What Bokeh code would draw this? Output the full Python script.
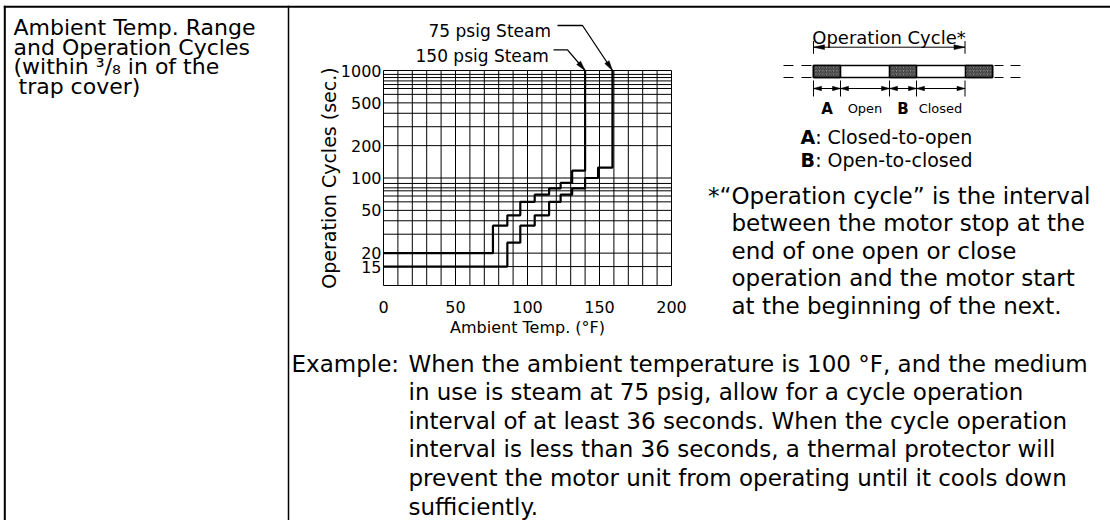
import math
from bokeh.plotting import figure
from bokeh.models import Range1d, LinearScale, LogScale
from bokeh.embed import file_html
from bokeh.resources import INLINE
from bokeh.core.properties import value

FONT = "DejaVu Sans"

# ---------------- data ----------------
temp_150psig = [0, 76, 86, 95, 105, 115, 123, 131, 140]
cycles_150psig = [20, 36, 45, 60, 70, 80, 90, 117, 1000]
temp_75psig = [0, 86, 95, 105, 115, 123, 131, 140, 149, 159]
cycles_75psig = [15, 25, 36, 45, 60, 70, 80, 100, 125, 1000]
series_names = ["75 psig Steam", "150 psig Steam"]

x_tick_values = [0, 50, 100, 150, 200]
y_tick_values = [15, 20, 50, 100, 200, 500, 1000]
x_grid_values = [0, 10, 20, 30, 40, 50, 60, 70, 80, 90, 100, 110, 120, 130, 140, 150, 160, 170, 180, 190, 200]
y_grid_values = [10, 15, 20, 30, 40, 50, 60, 68, 76, 81, 89, 100, 200, 300, 400, 500, 600, 680, 740, 800, 860, 920, 1000]
x_title = "Ambient Temp. (°F)"
y_title = "Operation Cycles (sec.)"

left_lines = ["Ambient Temp. Range", "and Operation Cycles", "(within ³/₈ in of the", "trap cover)"]
diagram_title = "Operation Cycle*"
diagram_parts = ["A", "Open", "B", "Closed"]
legend_keys = ["A", "B"]
legend_texts = [": Closed-to-open", ": Open-to-closed"]
footnote_mark = "*\u201c"
footnote_lines = ["Operation cycle\u201d is the interval", "between the motor stop at the",
                  "end of one open or close", "operation and the motor start",
                  "at the beginning of the next."]
example_head = "Example:"
example_lines = ["When the ambient temperature is 100 °F, and the medium",
                 "in use is steam at 75 psig, allow for a cycle operation",
                 "interval of at least 36 seconds. When the cycle operation",
                 "interval is less than 36 seconds, a thermal protector will",
                 "prevent the motor unit from operating until it cools down",
                 "sufficiently."]

# ---------------- canvas (pixel coordinates, y downwards) ----------------
W, H = 1110, 520
p = figure(width=W, height=H, x_range=Range1d(0, W), y_range=Range1d(H, 0),
           x_axis_location=None, y_axis_location=None,
           output_backend="svg", toolbar_location=None, min_border=0,
           outline_line_color=None, background_fill_color="white",
           border_fill_color="white")
p.grid.visible = False

# chart frame placement (pixels) and the library scales for the data
FR_L, FR_R = 383, 671          # 0 .. 200 °F
FR_B, Y1000 = 285, 70          # 10 s at FR_B, 1000 s at Y1000
DEC = (FR_B - Y1000) / 2.0     # pixels per decade
T_PER_PX = 200.0 / (FR_R - FR_L)


def cyc_at(py):
    return 10 ** (1 + (FR_B - py) / DEC)


def px_of(t):
    return FR_L + t / T_PER_PX


p.extra_x_ranges = {"temp": Range1d(-FR_L * T_PER_PX, (W - FR_L) * T_PER_PX)}
p.extra_x_scales = {"temp": LinearScale()}
p.extra_y_ranges = {"cyc": Range1d(cyc_at(H), cyc_at(0))}
p.extra_y_scales = {"cyc": LogScale()}
D = dict(x_range_name="temp", y_range_name="cyc")


def txt(x, y, s, size, align="left", baseline="alphabetic", bold=False, **kw):
    p.text(x=[x], y=[y], text=[s], text_font=value(FONT), text_font_size=f"{size}px",
           text_align=align, text_baseline=baseline, text_color="black",
           text_font_style="bold" if bold else "normal", **kw)


def head(tip, tail, L=9.0, Wd=2.5):
    dx, dy = tip[0] - tail[0], tip[1] - tail[1]
    n = math.hypot(dx, dy)
    ux, uy = dx / n, dy / n
    bx, by = tip[0] - ux * L, tip[1] - uy * L
    qx, qy = -uy * Wd, ux * Wd
    return [tip[0], bx + qx, bx - qx], [tip[1], by + qy, by - qy]


# ---------------- table rules ----------------
p.line([3.3, W], [6.3, 6.3], line_color="black", line_width=2)
p.line([4.3, 4.3], [5.3, H], line_color="black", line_width=2)
p.line([288, 288], [5.3, H], line_color="black", line_width=1.5)

# ---------------- left cell ----------------
for xx, yy, s in zip([13, 13, 13, 18], [26.7, 46.5, 66, 85.5], left_lines):
    txt(xx, yy, s, 22)

# ---------------- chart ----------------
y_lo, y_hi = y_grid_values[0], y_grid_values[-1]
x_lo, x_hi = x_grid_values[0], x_grid_values[-1]
p.segment(x0=x_grid_values, y0=[y_lo] * len(x_grid_values),
          x1=x_grid_values, y1=[y_hi] * len(x_grid_values),
          line_color="black", line_width=1, **D)
p.segment(x0=[x_lo] * len(y_grid_values), y0=y_grid_values,
          x1=[x_hi] * len(y_grid_values), y1=y_grid_values,
          line_color="black", line_width=1, **D)

p.step(temp_150psig, cycles_150psig, mode="after", line_color="black", line_width=2.2, **D)
p.step(temp_75psig, cycles_75psig, mode="after", line_color="black", line_width=2.2, **D)

# tick labels placed through the scales
p.text(x=[FR_L - 2] * len(y_tick_values), y=y_tick_values,
       text=[str(v) for v in y_tick_values], text_font=value(FONT), text_font_size="16px",
       text_align="right", text_baseline="middle", text_color="black", y_range_name="cyc")
p.text(x=x_tick_values, y=[306] * len(x_tick_values),
       text=[str(v) for v in x_tick_values], text_font=value(FONT), text_font_size="16px",
       text_align="center", text_baseline="alphabetic", text_color="black", x_range_name="temp")
txt((FR_L + FR_R) / 2.0, 327, x_title, 16, align="center")
txt(328, (Y1000 + FR_B) / 2.0, y_title, 19, align="center", baseline="middle", angle=math.pi / 2)

# series callouts
txt(428, 30.7, series_names[0], 17)
txt(415, 55, series_names[1], 17)
callouts = [
    ((557, 25), (582, 25), (px_of(temp_75psig[-1]), Y1000)),
    ((553, 49.3), (567, 49.3), (px_of(temp_150psig[-1]), Y1000)),
]
for a, b, tip in callouts:
    p.line([a[0], b[0], tip[0]], [a[1], b[1], tip[1]], line_color="black", line_width=1.3)
    hx, hy = head(tip, b, L=10, Wd=2.6)
    p.patch(hx, hy, fill_color="black", line_color="black", line_width=0.5)

# ---------------- right diagram ----------------
txt(888.5, 36.7, diagram_title, 18, align="center")
D0, D1, DY = 813, 964.5, 46.7
p.line([D0, D1], [DY, DY], line_color="black", line_width=1)
for xx in (D0, D1):
    p.line([xx, xx], [40.5, 53.3], line_color="black", line_width=1)
for tip, tail in (((D0, DY), (D0 + 20, DY)), ((D1, DY), (D1 - 20, DY))):
    hx, hy = head(tip, tail, L=11, Wd=2.4)
    p.patch(hx, hy, fill_color="black", line_color="black", line_width=0.5)

BT, BB = 65, 77
p.quad(left=[813], right=[992], top=[BT], bottom=[BB], fill_color="white",
       line_color="black", line_width=1.6)
p.quad(left=[813, 889, 965], right=[840, 916, 992], top=[BT] * 3, bottom=[BB] * 3,
       fill_color="#8c8c8c", hatch_pattern="/", hatch_color="#2a2a2a",
       hatch_scale=3.5, hatch_weight=1, line_color="black", line_width=1.6)
for (a, b) in ((783, 793), (801, 811), (994, 1003), (1010, 1020)):
    for yy in (BT, BB):
        p.line([a, b], [yy, yy], line_color="black", line_width=1)

dim_x = [813, 840, 889, 916, 964.5]
for xx in dim_x:
    p.line([xx, xx], [80, 96], line_color="black", line_width=1)
SY = 88
for a, b in zip(dim_x[:-1], dim_x[1:]):
    p.line([a, b], [SY, SY], line_color="black", line_width=1)
    for tip, tail in (((a, SY), (b, SY)), ((b, SY), (a, SY))):
        hx, hy = head(tip, tail, L=8, Wd=2.2)
        p.patch(hx, hy, fill_color="black", line_color="black", line_width=0.5)
for cx, s, bold in zip([826.5, 864.5, 902.5, 940], diagram_parts, [True, False, True, False]):
    txt(cx, 108, s, 15 if bold else 13, align="center", bold=bold)

for k, s, yb in zip(legend_keys, legend_texts, [136, 159]):
    txt(800, yb, k, 19, bold=True)
    txt(800 + 0.77 * 19, yb, s, 19)

FN_X = 731
txt(FN_X, 195, footnote_mark, 23, align="right")
for i, s in enumerate(footnote_lines):
    txt(FN_X, 195 + 27.5 * i, s, 23)

# ---------------- example text ----------------
txt(291, 363, example_head, 23)
for i, s in enumerate(example_lines):
    txt(408, 363 + 28.6 * i, s, 23)

with open("out.html", "w") as f:
    f.write(file_html(p, INLINE))
